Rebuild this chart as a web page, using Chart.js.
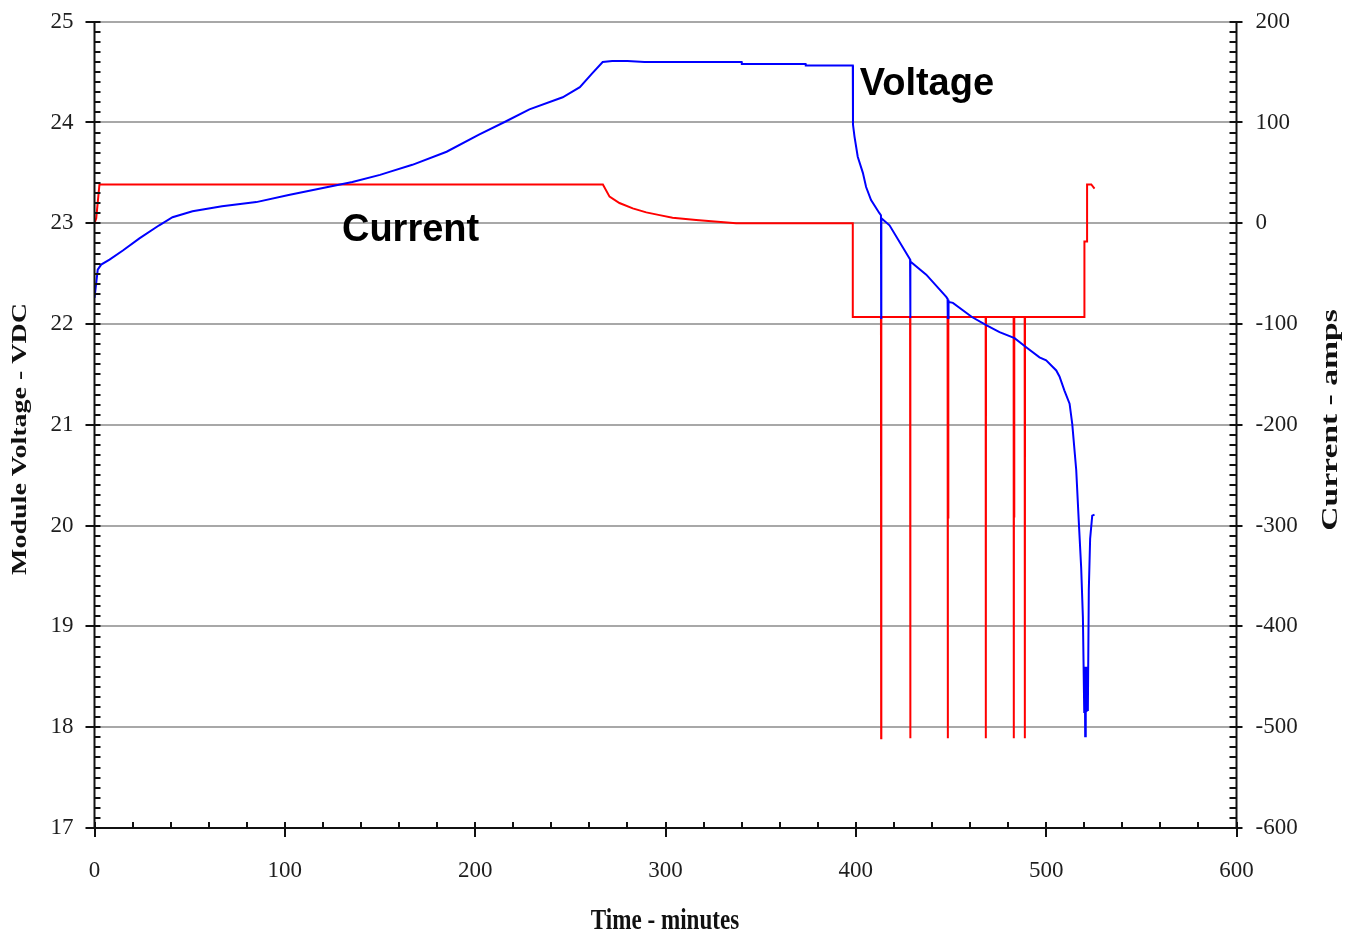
<!DOCTYPE html>
<html>
<head>
<meta charset="utf-8">
<script src="https://cdn.jsdelivr.net/npm/chart.js@4.4.1/dist/chart.umd.min.js"></script>
<style>
  html, body { margin: 0; padding: 0; background: #ffffff; }
  #wrap { width: 1347px; height: 936px; }
</style>
</head>
<body>
<div id="wrap"><canvas id="c" width="1347" height="936"></canvas></div>
<script>
// ---- Data ----
const voltageTime = [0, 1.7, 3.5, 7.9, 14.9, 23.6, 34, 41, 51.5, 67, 85, 102, 120, 135.5, 150, 155, 167, 185, 202, 216, 228.5, 246, 255, 261.6, 267, 272, 280, 289, 340, 340.1, 373.6, 373.7, 398.4, 398.5, 399.3, 401, 403.7, 405.4, 408, 412.4, 413.2, 413.3, 413.4, 417.7, 428.2, 428.5, 428.6, 428.7, 437, 447.5, 448.2, 448.3, 448.5, 448.6, 448.8, 451, 461, 468.5, 475.5, 483.4, 489.5, 496.5, 500, 505.3, 507, 509.6, 512.3, 513.7, 515.8, 517.3, 518.4, 519.3, 520.0, 520.3, 520.5, 520.8, 521.2, 521.5, 521.9, 522.4, 523.1, 524.2, 525.4];
const voltageValues = [22.26, 22.54, 22.59, 22.64, 22.73, 22.85, 22.98, 23.06, 23.12, 23.17, 23.21, 23.28, 23.35, 23.41, 23.48, 23.51, 23.58, 23.71, 23.88, 24.01, 24.13, 24.25, 24.35, 24.49, 24.60, 24.61, 24.61, 24.60, 24.60, 24.58, 24.58, 24.565, 24.565, 23.98, 23.86, 23.66, 23.50, 23.36, 23.23, 23.10, 23.08, 22.06, 23.05, 22.98, 22.65, 22.64, 22.06, 22.62, 22.49, 22.27, 22.25, 22.05, 22.24, 22.05, 22.22, 22.21, 22.07, 21.99, 21.92, 21.86, 21.77, 21.67, 21.64, 21.54, 21.48, 21.34, 21.21, 21.01, 20.55, 19.98, 19.58, 19.09, 18.15, 18.6, 17.91, 18.6, 18.15, 18.6, 18.16, 19.36, 19.87, 20.10, 20.11];

const currentTime = [0, 0.9, 2.6, 267.1, 270.6, 275.8, 282.8, 289.9, 296.9, 303.7, 316.1, 337.1, 398.4, 398.4, 413.2, 413.3, 413.4, 428.5, 428.6, 428.7, 448.2, 448.3, 448.4, 448.5, 448.6, 468.2, 468.3, 468.4, 482.9, 483.0, 483.1, 483.2, 483.3, 488.7, 488.8, 488.9, 520.1, 520.1, 521.5, 521.5, 523.7, 525.4];
const currentValues = [0, 5, 38.5, 38.5, 26.4, 20.1, 14.8, 10.8, 8.1, 5.5, 3.2, 0, 0, -93, -93, -511, -93, -93, -511, -93, -93, -511, -93, -292, -93, -93, -511, -93, -93, -511, -93, -292, -93, -93, -511, -93, -93, -18, -18, 38.5, 38.5, 34.5];

const timeTicks = [0, 100, 200, 300, 400, 500, 600];
const voltageTicks = [17, 18, 19, 20, 21, 22, 23, 24, 25];
const currentTicks = [-600, -500, -400, -300, -200, -100, 0, 100, 200];

const seriesLabels = ['Voltage', 'Current'];
const axisTitles = { x: 'Time - minutes', yLeft: 'Module Voltage - VDC', yRight: 'Current - amps' };
const annotations = [
  { text: 'Voltage', t: 402, v: 24.27 },
  { text: 'Current', t: 130, v: 22.82 }
];

// ---- Build chart ----
const vData = voltageTime.map((t, i) => ({ x: t, y: voltageValues[i] }));
const iData = currentTime.map((t, i) => ({ x: t, y: currentValues[i] }));

const TICK_COLOR = '#1e1e1e';
const tickFont = { family: '"Liberation Serif", "Times New Roman", serif', size: 23 };

function setTicks(list) {
  return function (scale) { scale.ticks = list.map(v => ({ value: v })); };
}

const decorPlugin = {
  id: 'decor',
  afterDatasetsDraw(chart) {
    const ctx = chart.ctx;
    const ca = chart.chartArea;
    const xs = chart.scales.x, yl = chart.scales.y, yr = chart.scales.y2;
    ctx.save();
    ctx.strokeStyle = '#111';
    ctx.lineWidth = 2;
    ctx.lineCap = 'butt';
    ctx.beginPath();
    ctx.moveTo(ca.left, ca.top); ctx.lineTo(ca.left, ca.bottom);
    ctx.moveTo(ca.left - 1, ca.bottom); ctx.lineTo(ca.right + 1, ca.bottom);
    ctx.moveTo(ca.right, ca.top); ctx.lineTo(ca.right, ca.bottom);
    ctx.stroke();
    ctx.beginPath();
    for (let k = 0; k <= 80; k++) {
      const v = 17 + k * 0.1;
      const y = Math.round(yl.getPixelForValue(v));
      const major = (k % 10 === 0);
      ctx.moveTo(major ? ca.left - 9 : ca.left, y);
      ctx.lineTo(ca.left + 6, y);
    }
    for (let k = 0; k <= 80; k++) {
      const v = -600 + k * 10;
      const y = Math.round(yr.getPixelForValue(v));
      const major = (k % 10 === 0);
      ctx.moveTo(ca.right - 7, y);
      ctx.lineTo(major ? ca.right + 6 : ca.right, y);
    }
    for (let k = 0; k <= 30; k++) {
      const v = k * 20;
      const x = Math.round(xs.getPixelForValue(v));
      const major = (k % 5 === 0);
      ctx.moveTo(x, ca.bottom - 6);
      ctx.lineTo(x, major ? ca.bottom + 9 : ca.bottom);
    }
    ctx.stroke();

    ctx.fillStyle = '#000';
    ctx.font = 'bold 38px "Liberation Sans", Arial, sans-serif';
    ctx.textAlign = 'left';
    ctx.textBaseline = 'alphabetic';
    annotations.forEach(a => {
      ctx.fillText(a.text, xs.getPixelForValue(a.t), yl.getPixelForValue(a.v));
    });

    ctx.fillStyle = '#111';
    ctx.textAlign = 'center';
    ctx.textBaseline = 'middle';
    ctx.save();
    ctx.translate(21, 439);
    ctx.rotate(-Math.PI / 2);
    ctx.scale(1.4, 1);
    ctx.font = 'bold 20px "Liberation Serif", "Times New Roman", serif';
    ctx.fillText(axisTitles.yLeft, 0, 0);
    ctx.restore();
    ctx.save();
    ctx.translate(1331, 420);
    ctx.rotate(-Math.PI / 2);
    ctx.scale(1.4, 1);
    ctx.font = 'bold 24px "Liberation Serif", "Times New Roman", serif';
    ctx.fillText(axisTitles.yRight, 0, 0);
    ctx.restore();
    ctx.save();
    ctx.translate(665, 921);
    ctx.scale(1.05, 1.35);
    ctx.font = 'bold 22px "Liberation Serif", "Times New Roman", serif';
    ctx.fillText(axisTitles.x, 0, 0);
    ctx.restore();

    ctx.restore();
  }
};

function fitY(width) {
  return function (scale) {
    scale.width = width;
    scale.paddingTop = 0;
    scale.paddingBottom = 0;
  };
}

new Chart(document.getElementById('c'), {
  type: 'line',
  data: {
    datasets: [
      {
        label: seriesLabels[0],
        data: vData,
        yAxisID: 'y',
        borderColor: '#0000ff',
        backgroundColor: '#0000ff',
        borderWidth: 2,
        pointRadius: 0,
        tension: 0,
        fill: false,
        order: 0
      },
      {
        label: seriesLabels[1],
        data: iData,
        yAxisID: 'y2',
        borderColor: '#ff0000',
        backgroundColor: '#ff0000',
        borderWidth: 2,
        pointRadius: 0,
        tension: 0,
        fill: false,
        order: 1
      }
    ]
  },
  options: {
    responsive: false,
    devicePixelRatio: 1,
    animation: false,
    parsing: false,
    normalized: true,
    layout: { padding: { top: 21.7, left: 0, right: 0, bottom: 0 } },
    plugins: {
      legend: { display: false },
      tooltip: { enabled: false },
      title: { display: false }
    },
    scales: {
      x: {
        type: 'linear',
        position: 'bottom',
        min: 0, max: 600,
        afterBuildTicks: setTicks(timeTicks),
        afterFit(scale) { scale.height = 108; scale.paddingLeft = 0; scale.paddingRight = 0; },
        grid: { display: false, drawTicks: false },
        border: { display: false },
        ticks: { color: TICK_COLOR, font: tickFont, padding: 29, maxRotation: 0, autoSkip: false }
      },
      y: {
        type: 'linear',
        position: 'left',
        min: 17, max: 25,
        afterBuildTicks: setTicks(voltageTicks),
        afterFit: fitY(94.5),
        grid: { display: true, color: '#a8a8a8', lineWidth: 2, drawTicks: false },
        border: { display: false },
        ticks: { color: TICK_COLOR, font: tickFont, padding: 21, autoSkip: false }
      },
      y2: {
        type: 'linear',
        position: 'right',
        min: -600, max: 200,
        afterBuildTicks: setTicks(currentTicks),
        afterFit: fitY(110.5),
        grid: { display: false, drawOnChartArea: false, drawTicks: false },
        border: { display: false },
        ticks: { color: TICK_COLOR, font: tickFont, padding: 19, autoSkip: false }
      }
    }
  },
  plugins: [decorPlugin]
});
</script>
</body>
</html>
